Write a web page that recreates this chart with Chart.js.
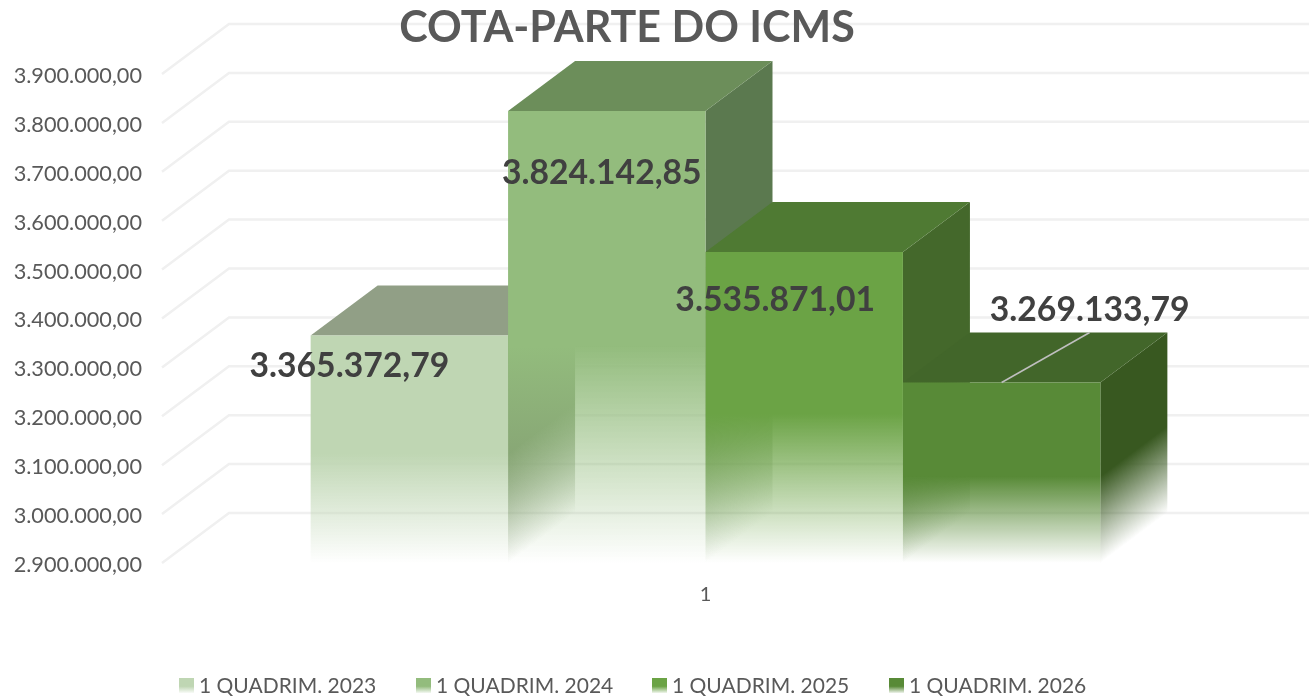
<!DOCTYPE html>
<html lang="en">
<head>
  <meta charset="UTF-8" />
  <title>COTA-PARTE DO ICMS</title>
  <script src="https://cdn.jsdelivr.net/npm/chart.js"></script>
  <style>
    html, body { margin: 0; padding: 0; background: #fff; }
    canvas { display: block; }
  </style>
</head>
<body>
  <canvas id="icmsChart" width="1309" height="698"></canvas>

  <script>
    const categories = ['1'];
    const seriesLabels = ['1 QUADRIM. 2023', '1 QUADRIM. 2024', '1 QUADRIM. 2025', '1 QUADRIM. 2026'];
    const values2023 = [3365372.79];
    const values2024 = [3824142.85];
    const values2025 = [3535871.01];
    const values2026 = [3269133.79];
    const seriesValues = [values2023, values2024, values2025, values2026];

    const yMin = 2900000;
    const yMax = 3900000;
    const yStep = 100000;

    // face colours as r,g,b so the fade can reuse them
    const frontColors = ['191,214,179', '147,188,125', '107,163,69', '88,138,55'];
    const sideColors = ['125,146,110', '91,121,79', '68,104,43', '56,88,32'];
    const topColors = ['145,159,134', '108,142,90', '79,122,51', '66,102,42'];

    // hand placed data labels, relative to the top middle of each bar
    const labelShiftX = [-60, -5, -29, 88];
    const labelShiftY = [31, 62, 48, -72];

    const depthX = 67;
    const depthY = 50;
    const fadeStart = 0.52;
    const legendX = [179, 416, 652, 889];

    function formatBR(v) {
      const parts = v.toFixed(2).split('.');
      return parts[0].replace(/\B(?=(\d{3})+$)/g, '.') + ',' + parts[1];
    }

    function fadeGradient(ctx, x0, y0, x1, y1, rgb) {
      const g = ctx.createLinearGradient(x0, y0, x1, y1);
      g.addColorStop(0, `rgba(${rgb},1)`);
      g.addColorStop(fadeStart, `rgba(${rgb},1)`);
      g.addColorStop(1, `rgba(${rgb},0)`);
      return g;
    }

    function polygon(ctx, pts, fill) {
      ctx.beginPath();
      pts.forEach((p, i) => i ? ctx.lineTo(p[0], p[1]) : ctx.moveTo(p[0], p[1]));
      ctx.closePath();
      ctx.fillStyle = fill;
      ctx.fill();
    }

    const bars3d = {
      id: 'bars3d',
      beforeDatasetsDraw(chart) {
        const { ctx, chartArea, scales: { y } } = chart;
        ctx.save();
        ctx.strokeStyle = '#f0f0f0';
        ctx.lineWidth = 2.5;
        y.ticks.forEach(t => {
          const py = y.getPixelForValue(t.value);
          ctx.beginPath();
          ctx.moveTo(chartArea.left, py);
          ctx.lineTo(chartArea.left + depthX, py - depthY);
          ctx.lineTo(chart.width, py - depthY);
          ctx.stroke();
        });
        ctx.restore();
      },
      // chart.js draws datasets last to first, here they have to go first to last
      beforeDatasetDraw() {
        return false;
      },
      afterDatasetsDraw(chart) {
        const { ctx } = chart;
        ctx.save();
        chart.data.datasets.forEach((ds, i) => {
          const bar = chart.getDatasetMeta(i).data[0];
          const left = bar.x - bar.width / 2;
          const right = bar.x + bar.width / 2;
          const h = bar.base - bar.y;

          // side fades across the diagonal of the face
          const len = h * 0.8;
          const side = fadeGradient(ctx, right, bar.y, right + len * 0.6, bar.y + len * 0.8, sideColors[i]);
          polygon(ctx, [[right, bar.y], [right + depthX, bar.y - depthY],
            [right + depthX, bar.base - depthY], [right, bar.base]], side);

          polygon(ctx, [[left, bar.y], [left + depthX, bar.y - depthY],
            [right + depthX, bar.y - depthY], [right, bar.y]], `rgb(${topColors[i]})`);

          bar.draw(ctx, chart.chartArea);
        });

        // leader line of the last label
        const last = chart.getDatasetMeta(3).data[0];
        ctx.strokeStyle = '#bfbfbf';
        ctx.lineWidth = 1.5;
        ctx.beginPath();
        ctx.moveTo(last.x, last.y);
        ctx.lineTo(last.x + 88, last.y - 50);
        ctx.stroke();

        ctx.fillStyle = '#404040';
        ctx.font = 'bold 33.7px Lato';
        ctx.textAlign = 'center';
        ctx.textBaseline = 'middle';
        chart.data.datasets.forEach((ds, i) => {
          const bar = chart.getDatasetMeta(i).data[0];
          ctx.fillText(formatBR(ds.data[0]), bar.x + labelShiftX[i], bar.y + labelShiftY[i]);
        });

        // title sits left of the plot centre so it is placed by hand
        ctx.fillStyle = '#595959';
        ctx.font = 'bold 43px Lato';
        ctx.fillText('COTA-PARTE DO ICMS', 627, 28);

        // legend
        ctx.font = '21px Lato';
        ctx.textAlign = 'left';
        chart.data.datasets.forEach((ds, i) => {
          const g = ctx.createLinearGradient(0, 678, 0, 693);
          g.addColorStop(0, `rgba(${frontColors[i]},1)`);
          g.addColorStop(0.55, `rgba(${frontColors[i]},1)`);
          g.addColorStop(1, `rgba(${frontColors[i]},0.1)`);
          ctx.fillStyle = g;
          ctx.fillRect(legendX[i], 678, 15, 15);
          ctx.fillStyle = '#595959';
          ctx.fillText(ds.label, legendX[i] + 20, 686);
        });
        ctx.restore();
      }
    };

    new Chart(document.getElementById('icmsChart'), {
      type: 'bar',
      data: {
        labels: categories,
        datasets: seriesLabels.map((label, i) => ({
          label: label,
          data: seriesValues[i],
          base: yMin,
          borderWidth: 0,
          backgroundColor: c => {
            const { chart, parsed } = c;
            const y = chart.scales.y;
            const top = parsed ? y.getPixelForValue(parsed.y) : NaN;
            // scales have no pixels yet on the first pass
            if (!Number.isFinite(top) || !Number.isFinite(y.bottom)) return `rgb(${frontColors[i]})`;
            return fadeGradient(chart.ctx, 0, top, 0, y.bottom, frontColors[i]);
          }
        }))
      },
      options: {
        responsive: false,
        animation: false,
        layout: { padding: { left: 0, top: 74, right: 60, bottom: 0 } },
        datasets: { bar: { categoryPercentage: 0.7265, barPercentage: 1 } },
        plugins: {
          legend: { display: false },
          tooltip: { enabled: false }
        },
        scales: {
          x: {
            afterFit: s => { s.height = 135; },
            grid: { display: false, drawTicks: false },
            border: { display: false },
            ticks: { padding: 20, color: '#595959', font: { family: 'Lato', size: 20 } }
          },
          y: {
            min: yMin,
            max: yMax,
            afterFit: s => { s.width = 162; },
            grid: { display: false, drawTicks: false },
            border: { display: false },
            ticks: {
              stepSize: yStep,
              padding: 20,
              labelOffset: 2,
              color: '#595959',
              font: { family: 'Lato', size: 21.7 },
              callback: v => formatBR(v)
            }
          }
        }
      },
      plugins: [bars3d]
    });
  </script>
</body>
</html>
